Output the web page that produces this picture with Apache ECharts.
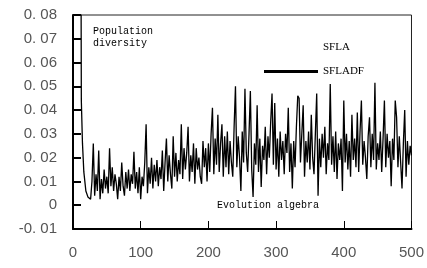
<!DOCTYPE html>
<html>
<head>
<meta charset="utf-8">
<script src="https://cdn.jsdelivr.net/npm/echarts@6/dist/echarts.min.js"></script>
<style>
  html, body { margin: 0; padding: 0; background: #fff; }
  #chart { width: 427px; height: 268px; }
</style>
</head>
<body>
<div id="chart"></div>
<script>
// 初期段階（急降下部分）
var headGens = [0, 12, 12.3, 14, 16, 19, 22, 24]
var headVals = [0.08, 0.08, 0.044, 0.026, 0.014, 0.006, 0.0035, 0.003]

// 26 世代目から 2 世代ごと
var tailStart = 26
var tailStep = 2
var tailVals = [
  0.0025, 0.010, 0.026, 0.004, 0.013, 0.006, 0.023, 0.0025, 0.011, 0.005,
  0.015, 0.007, 0.012, 0.005, 0.024, 0.008, 0.016, 0.006, 0.013, 0.009,
  0.0025, 0.012, 0.006, 0.018, 0.008, 0.004, 0.014, 0.007, 0.015, 0.006,
  0.013, 0.009, 0.0225, 0.007, 0.014, 0.005, 0.016, 0.0025, 0.012, 0.008,
  0.018, 0.034, 0.005, 0.016, 0.009, 0.020, 0.007, 0.017, 0.010, 0.019,
  0.008, 0.016, 0.011, 0.023, 0.006, 0.018, 0.028, 0.010, 0.021, 0.013,
  0.007, 0.029, 0.012, 0.022, 0.010, 0.019, 0.013, 0.034, 0.011, 0.024,
  0.015, 0.022, 0.033, 0.010, 0.021, 0.014, 0.026, 0.009, 0.024, 0.015,
  0.020, 0.012, 0.009, 0.027, 0.016, 0.024, 0.010, 0.026, 0.014, 0.030,
  0.041, 0.013, 0.028, 0.017, 0.038, 0.014, 0.026, 0.034, 0.012, 0.029,
  0.016, 0.031, 0.013, 0.027, 0.018, 0.012, 0.033, 0.050, 0.016, 0.029,
  0.020, 0.006, 0.031, 0.018, 0.049, 0.022, 0.014, 0.030, 0.048, 0.015,
  0.0035, 0.026, 0.017, 0.042, 0.014, 0.028, 0.0077, 0.025, 0.019, 0.033,
  0.013, 0.029, 0.020, 0.035, 0.047, 0.017, 0.043, 0.015, 0.028, 0.012,
  0.031, 0.019, 0.027, 0.013, 0.030, 0.022, 0.041, 0.014, 0.026, 0.007,
  0.027, 0.016, 0.033, 0.046, 0.045, 0.018, 0.030, 0.042, 0.012, 0.027,
  0.018, 0.031, 0.015, 0.038, 0.020, 0.013, 0.030, 0.047, 0.004, 0.028,
  0.016, 0.030, 0.020, 0.033, 0.013, 0.026, 0.019, 0.051, 0.017, 0.029,
  0.014, 0.031, 0.011, 0.026, 0.019, 0.028, 0.006, 0.044, 0.018, 0.030,
  0.015, 0.027, 0.012, 0.038, 0.019, 0.028, 0.016, 0.039, 0.014, 0.031,
  0.044, 0.017, 0.027, 0.020, 0.011, 0.029, 0.037, 0.016, 0.030, 0.019,
  0.0515, 0.015, 0.026, 0.019, 0.031, 0.014, 0.028, 0.044, 0.016, 0.030,
  0.020, 0.027, 0.008, 0.028, 0.019, 0.044, 0.037, 0.016, 0.029, 0.018,
  0.007, 0.026, 0.040, 0.012, 0.027, 0.017, 0.025, 0.021
]

var xTicks = [0, 100, 200, 300, 400, 500]
var yMin = -0.01, yMax = 0.08, yStep = 0.01

var seriesNames = ['SFLA', 'SFLADF']

var lineData = []
headGens.forEach(function (g, i) { lineData.push([g, headVals[i]]) })
tailVals.forEach(function (v, i) { lineData.push([tailStart + i * tailStep, v]) })

var myChart = echarts.init(document.getElementById('chart'))

var labelFont = '"Liberation Sans", "DejaVu Sans", sans-serif'
var monoFont = '"Liberation Mono", "DejaVu Sans Mono", monospace'

var option = {
  animation: false,
  backgroundColor: '#fff',
  grid: {
    left: 73, right: 13, top: 15, bottom: 39,
    show: true, borderColor: '#222', borderWidth: 1
  },
  legend: {
    orient: 'vertical',
    left: 259, top: 37,
    itemWidth: 54, itemHeight: 3,
    itemGap: 13,
    textStyle: { fontFamily: '"Liberation Serif", serif', fontSize: 11, color: '#000' },
    data: [
      { name: seriesNames[0], icon: 'none' },
      { name: seriesNames[1], icon: 'rect' }
    ]
  },
  xAxis: {
    type: 'value',
    min: xTicks[0], max: xTicks[xTicks.length - 1], interval: 100,
    axisLine: { show: true, onZero: false, lineStyle: { color: '#000', width: 2 } },
    axisTick: { show: true, inside: true, length: 8, lineStyle: { color: '#000', width: 1 } },
    axisLabel: { margin: 16, fontSize: 15, color: '#555', fontFamily: labelFont },
    splitLine: { show: false }
  },
  yAxis: {
    type: 'value',
    min: yMin, max: yMax, interval: yStep,
    axisLine: { show: true, onZero: false, lineStyle: { color: '#000', width: 2 } },
    axisTick: { show: true, inside: true, length: 8, lineStyle: { color: '#000', width: 2 } },
    axisLabel: {
      margin: 16, fontSize: 15, color: '#555', fontFamily: labelFont,
      formatter: function (v) {
        if (Math.abs(v) < 1e-9) return '0'
        return v.toFixed(2).replace('.', '. ')
      }
    },
    splitLine: { show: false }
  },
  graphic: [
    { type: 'text', left: 93, top: 25, style: { text: 'Population\ndiversity', font: '10px ' + monoFont, fill: '#000', lineHeight: 12 } },
    { type: 'text', left: 217, top: 200, style: { text: 'Evolution algebra', font: '10px ' + monoFont, fill: '#000' } }
  ],
  series: [
    {
      name: seriesNames[0], type: 'line', data: [],
      showSymbol: false, lineStyle: { color: 'rgba(0,0,0,0)' }, itemStyle: { color: 'rgba(0,0,0,0)' }
    },
    {
      name: seriesNames[1], type: 'line', data: lineData,
      showSymbol: false, clip: true,
      lineStyle: { color: '#000', width: 1.3 }, itemStyle: { color: '#000' }
    }
  ]
}

myChart.setOption(option)
</script>
</body>
</html>
